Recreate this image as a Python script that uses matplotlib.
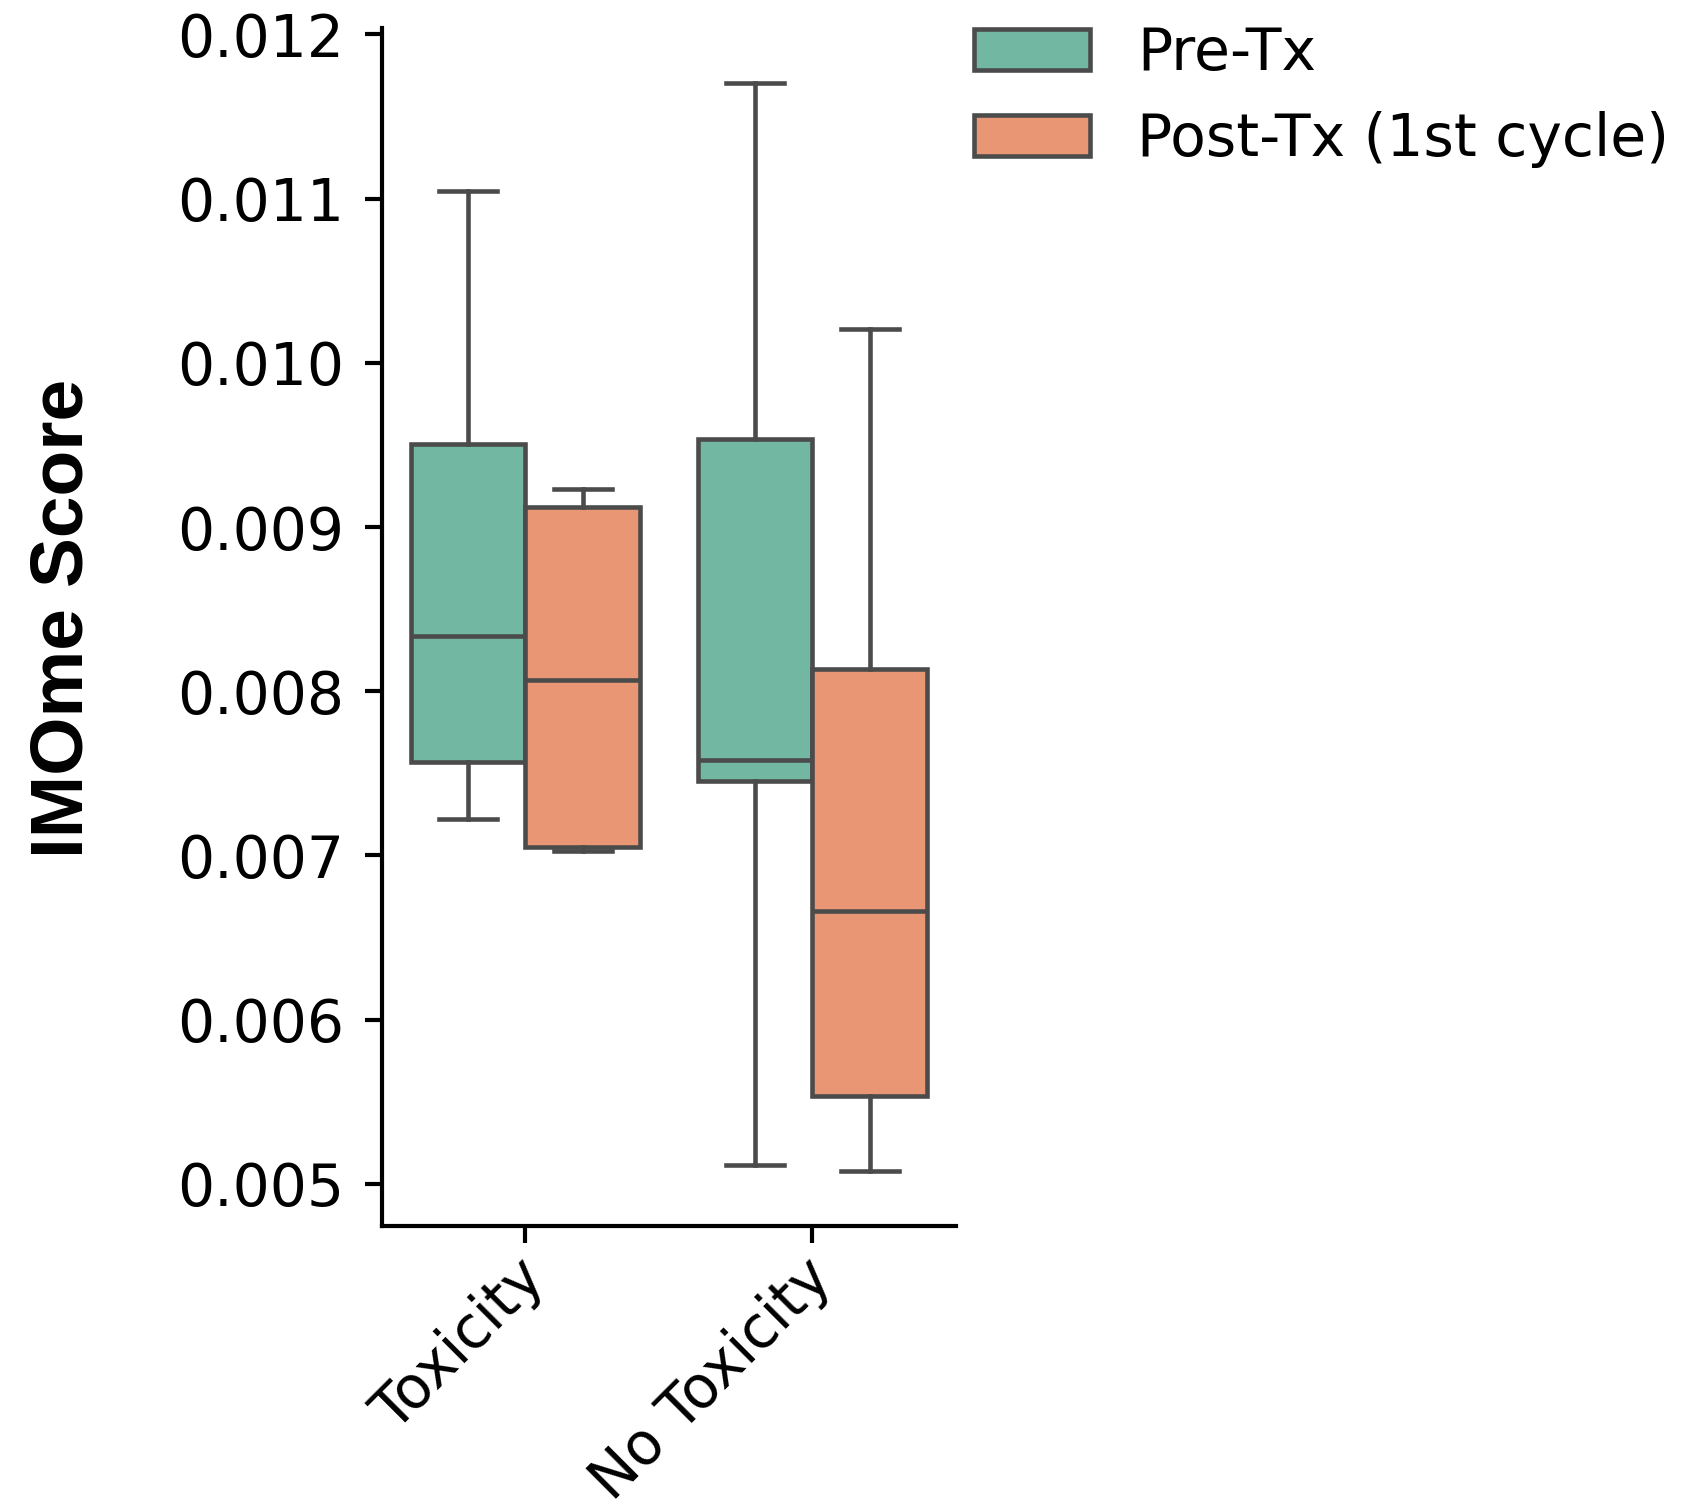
import matplotlib
matplotlib.use("Agg")
import matplotlib.pyplot as plt
from matplotlib.ticker import FormatStrFormatter
from matplotlib.patches import Patch
from matplotlib.transforms import ScaledTranslation
import numpy as np

# box stats
groups = ['Toxicity', 'No Toxicity']
series = ['Pre-Tx', 'Post-Tx (1st cycle)']

pre_whislo = [0.007219, 0.005113]
pre_q1 = [0.007566, 0.007455]
pre_med = [0.008338, 0.007579]
pre_q3 = [0.009508, 0.009534]
pre_whishi = [0.011045, 0.011706]

post_whislo = [0.007029, 0.005080]
post_q1 = [0.007049, 0.005532]
post_med = [0.008069, 0.006663]
post_q3 = [0.009122, 0.008135]
post_whishi = [0.009233, 0.010208]

colors = ['#71b7a1', '#e99675']
line_col = '#4b4b4b'

def make_stats(lo, q1, med, q3, hi):
    out = []
    for i in range(len(lo)):
        out.append({'whislo': lo[i], 'q1': q1[i], 'med': med[i],
                    'q3': q3[i], 'whishi': hi[i], 'fliers': []})
    return out

pre_stats = make_stats(pre_whislo, pre_q1, pre_med, pre_q3, pre_whishi)
post_stats = make_stats(post_whislo, post_q1, post_med, post_q3, post_whishi)

fig = plt.figure(figsize=(1684 / 300, 1509 / 300), dpi=300)
ax = fig.add_axes([0.2268, 0.1876, 0.3409, 0.7939])

x = np.arange(len(groups))
lw = 1.1
for stats, off, col in [(pre_stats, -0.2, colors[0]), (post_stats, 0.2, colors[1])]:
    ax.bxp(stats, positions=x + off, widths=0.4, patch_artist=True,
           showfliers=False, manage_ticks=False,
           boxprops=dict(facecolor=col, edgecolor=line_col, linewidth=lw),
           medianprops=dict(color=line_col, linewidth=lw),
           whiskerprops=dict(color=line_col, linewidth=lw),
           capprops=dict(color=line_col, linewidth=lw))

ax.set_xlim(-0.5, 1.5)
ax.set_ylim(0.004743, 0.01204)
ax.set_yticks(np.arange(0.005, 0.0125, 0.001))
ax.yaxis.set_major_formatter(FormatStrFormatter('%.3f'))
ax.set_xticks(x)
ax.set_xticklabels(groups, rotation=45, ha='right', rotation_mode='anchor')

for s in ['top', 'right']:
    ax.spines[s].set_visible(False)
for s in ['left', 'bottom']:
    ax.spines[s].set_linewidth(1.0)
ax.tick_params(axis='both', length=4, width=1.0, labelsize=14)
ax.tick_params(axis='y', pad=5)
ax.tick_params(axis='x', pad=1.5)

# nudge the rotated labels a little to the left
shift = ScaledTranslation(-10 / 300, 0, fig.dpi_scale_trans)
for lab in ax.get_xticklabels():
    lab.set_transform(lab.get_transform() + shift)

ax.set_ylabel('IMOme Score', fontsize=18, fontweight='bold',
              family='Liberation Sans')
ax.yaxis.set_label_coords(-0.495, 0.507)

handles = [Patch(facecolor=colors[i], edgecolor=line_col, linewidth=lw) for i in range(2)]
ax.legend(handles, series, loc='upper left', bbox_to_anchor=(0.99, 1.022),
          frameon=False, fontsize=14, borderaxespad=0)

fig.savefig('out.png', dpi=300)
